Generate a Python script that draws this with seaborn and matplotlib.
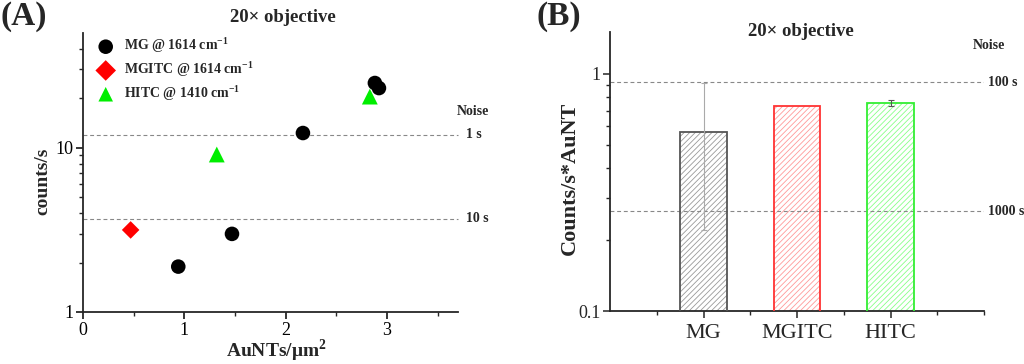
import numpy as np
import pandas as pd
import matplotlib
matplotlib.use("Agg")
import matplotlib.pyplot as plt
import matplotlib.transforms as mtransforms
from matplotlib.patches import Rectangle
from matplotlib.ticker import NullFormatter
import seaborn as sns

# ---- panel A data: counts/s vs AuNT density ----
mg_x = [0.94, 1.47, 2.17, 2.88, 2.92]
mg_y = [1.89, 2.99, 12.3, 24.8, 23.1]
mgitc_x = [0.47]
mgitc_y = [3.16]
hitc_x = [1.32, 2.83]
hitc_y = [9.1, 20.5]
series_labels = ["MG @ 1614 cm$^{\\mathbf{-1}}$",
                 "MGITC @ 1614 cm$^{\\mathbf{-1}}$",
                 "HITC @ 1410 cm$^{\\mathbf{-1}}$"]
noise_a = [12.0, 3.69]
noise_a_labels = ["1 s", "10 s"]

# ---- panel B data: counts/s per AuNT ----
bar_cats = ["MG", "MGITC", "HITC"]
bar_vals = [0.567, 0.731, 0.753]
bar_err = [0.347, 0.0, 0.024]
noise_b = [0.923, 0.263]
noise_b_labels = ["100 s", "1000 s"]

sns.set_theme(style="ticks")
plt.rcParams["font.family"] = ["Liberation Serif", "DejaVu Serif"]
plt.rcParams["mathtext.fontset"] = "custom"
plt.rcParams["mathtext.rm"] = "Liberation Serif"
plt.rcParams["mathtext.bf"] = "Liberation Serif:bold"
plt.rcParams["hatch.linewidth"] = 0.6
plt.rcParams["axes.linewidth"] = 1.3
plt.rcParams["xtick.major.width"] = 1.1
plt.rcParams["ytick.major.width"] = 1.1
plt.rcParams["xtick.minor.width"] = 1.0
plt.rcParams["ytick.minor.width"] = 1.0

fig = plt.figure(figsize=(10.24, 3.64), dpi=100)
W, H = 1024, 364


def add_ax(l, r, t, b):
    return fig.add_axes([l / W, (H - b) / H, (r - l) / W, (b - t) / H])


ax1 = add_ax(83, 458, 33, 312)
ax2 = add_ax(610, 984, 32, 311)

# ---------------- panel A ----------------
df = pd.DataFrame({
    "x": mg_x + mgitc_x + hitc_x,
    "y": mg_y + mgitc_y + hitc_y,
    "series": [series_labels[0]] * len(mg_x) + [series_labels[1]] * len(mgitc_x)
              + [series_labels[2]] * len(hitc_x),
})
palette = dict(zip(series_labels, ["black", "#ff0000", "#00ee00"]))
markers = dict(zip(series_labels, ["o", "D", "^"]))
sizes = dict(zip(series_labels, [110, 80, 130]))
for lab in series_labels:
    sub = df[df["series"] == lab]
    sns.scatterplot(data=sub, x="x", y="y", color=palette[lab], marker=markers[lab],
                    s=sizes[lab], edgecolor="none", ax=ax1, label=lab, zorder=3)

ax1.set_yscale("log")
ax1.set_xlim(0, 3.7)
ax1.set_ylim(1, 50)
ax1.set_xticks([0, 1, 2, 3], ["0", "1", "2", "3"])
ax1.set_xticks([0.5, 1.5, 2.5, 3.5], minor=True)
ax1.set_yticks([1, 10], ["1", "10"])
ax1.set_yticks([2, 3, 4, 5, 6, 7, 8, 9, 20, 30, 40], minor=True)
ax1.yaxis.set_minor_formatter(NullFormatter())
ax1.tick_params(axis="both", which="major", length=5, labelsize=13, pad=2, colors="black")
ax1.tick_params(axis="both", which="minor", length=3)
sns.despine(ax=ax1)
ax1.set_xlabel("AuNTs/\u03bcm$^{\\mathbf{2}}$", fontsize=14, fontweight="bold")
ax1.set_ylabel("counts/s", fontsize=14, fontweight="bold")
ax1.xaxis.set_label_coords(0.517, -0.092)
ax1.yaxis.set_label_coords(-0.085, 0.47)

for yv, lab in zip(noise_a, noise_a_labels):
    ax1.axhline(yv, color="#888888", lw=0.8, dashes=(3.5, 2.5), zorder=1, clip_on=False)
    tr = mtransforms.blended_transform_factory(ax1.transAxes, ax1.transData)
    ax1.text(1.02, yv, lab, transform=tr, ha="left", va="center",
             fontsize=10, fontweight="bold")
ax1.text(1.04, 0.72, "Noise", transform=ax1.transAxes, ha="center", va="center",
         fontsize=10, fontweight="bold")

leg = ax1.legend(loc="upper left", bbox_to_anchor=(0.005, 1.025), frameon=False,
                 prop={"size": 10, "weight": "bold"}, handletextpad=0.55,
                 labelspacing=0.3, borderaxespad=0.3, handlelength=1.6)
for h in leg.legend_handles:
    h.set_sizes([110])

# ---------------- panel B ----------------
edge_cols = ["#555555", "#ff3333", "#33ee33"]
hatch_cols = ["#999999", "#ff9999", "#88ff88"]
dfb = pd.DataFrame({"cat": bar_cats, "val": bar_vals})
sns.barplot(data=dfb, x="cat", y="val", hue="cat", order=bar_cats,
            palette=dict(zip(bar_cats, hatch_cols)), width=0.5,
            errorbar=None, legend=False, ax=ax2)
ax2.set_yscale("log")
for p, hc, ec in zip(ax2.patches, hatch_cols, edge_cols):
    p.set_facecolor("white")
    p.set_edgecolor(hc)
    p.set_hatch("//////")
    p.set_linewidth(0)
    ax2.add_patch(Rectangle(p.get_xy(), p.get_width(), p.get_height(), fill=False,
                            edgecolor=ec, lw=1.3, zorder=3))

for i, (v, e) in enumerate(zip(bar_vals, bar_err)):
    if e > 0:
        col = "#aaaaaa" if i == 0 else "#555555"
        ax2.errorbar(i, v, yerr=e, color=col, lw=0.8, capsize=2.5, capthick=0.8,
                     zorder=4)

ax2.set_xlim(-1, 3)
ax2.set_ylim(0.1, 1.5)
ax2.set_xticks([0, 1, 2], bar_cats)
ax2.set_xticks([-0.5, 0.5, 1.5, 2.5, 3.0], minor=True)
ax2.set_yticks([0.1, 1], ["0.1", "1"])
ax2.set_yticks([0.2, 0.3, 0.4, 0.5, 0.6, 0.7, 0.8, 0.9], minor=True)
ax2.yaxis.set_minor_formatter(NullFormatter())
ax2.tick_params(axis="y", which="major", length=5, labelsize=13, pad=2)
ax2.tick_params(axis="x", which="major", length=5, labelsize=16, pad=4)
ax2.tick_params(axis="both", which="minor", length=3)
sns.despine(ax=ax2)
ax2.set_xlabel("")
ax2.set_ylabel("Counts/s*AuNT", fontsize=16, fontweight="bold")
ax2.yaxis.set_label_coords(-0.08, 0.477)

for yv, lab in zip(noise_b, noise_b_labels):
    ax2.axhline(yv, color="#888888", lw=0.8, dashes=(3.5, 2.5), zorder=1)
    tr = mtransforms.blended_transform_factory(ax2.transAxes, ax2.transData)
    ax2.text(1.011, yv, lab, transform=tr, ha="left", va="center",
             fontsize=10, fontweight="bold")
ax2.text(1.013, 0.95, "Noise", transform=ax2.transAxes, ha="center", va="center",
         fontsize=10, fontweight="bold")

# titles and panel labels
fig.text(283 / W, 1 - 17 / H, "20\u00d7 objective", ha="center", va="center",
         fontsize=13.5, fontweight="bold")
fig.text(801 / W, 1 - 32 / H, "20\u00d7 objective", ha="center", va="center",
         fontsize=13.5, fontweight="bold")
fig.text(0 / W, 1 - 16 / H, "(A)", ha="left", va="center", fontsize=24, fontweight="bold")
fig.text(537 / W, 1 - 16 / H, "(B)", ha="left", va="center", fontsize=24, fontweight="bold")

fig.savefig("out.png", dpi=100)
